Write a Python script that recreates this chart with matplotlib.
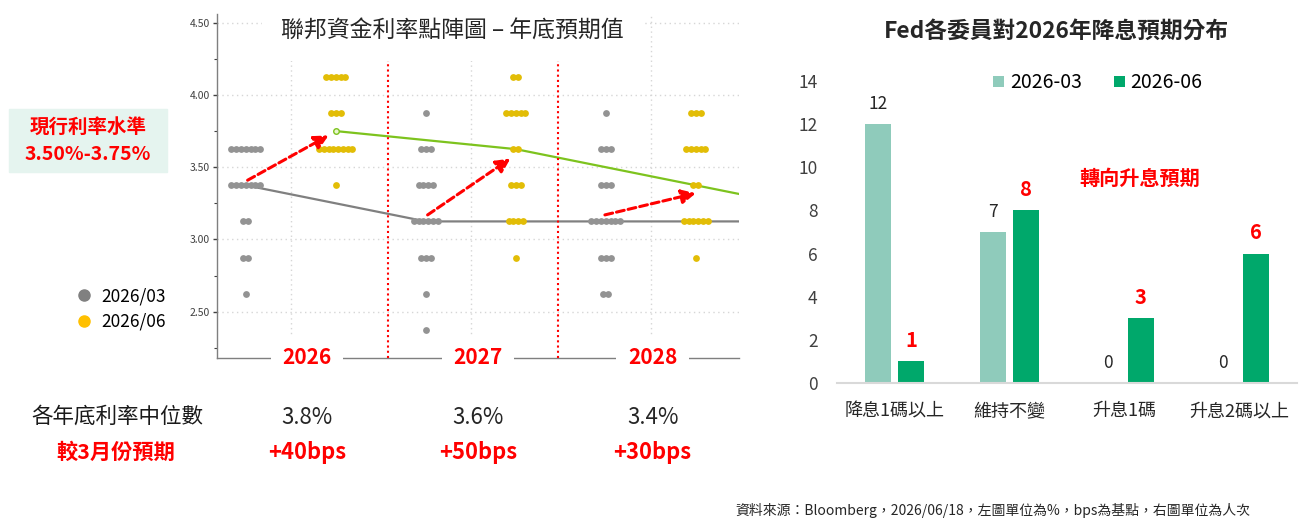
import numpy as np
import matplotlib.pyplot as plt
from matplotlib.patches import Rectangle
from matplotlib.lines import Line2D
from matplotlib.ticker import MultipleLocator
from matplotlib.transforms import blended_transform_factory

plt.rcParams['font.family'] = ['Noto Sans CJK TC', 'DejaVu Sans']

# 點陣圖：各利率水準的委員人數（由上而下）
rate_levels = [4.125, 3.875, 3.625, 3.375, 3.125, 2.875, 2.625, 2.375]
dots_2026_03 = [0, 0, 7, 7, 2, 2, 1, 0]
dots_2026_06 = [5, 3, 8, 1, 0, 0, 0, 0]
dots_2027_03 = [0, 1, 3, 4, 6, 3, 1, 1]
dots_2027_06 = [2, 5, 2, 3, 4, 1, 0, 0]
dots_2028_03 = [0, 1, 3, 3, 7, 3, 2, 0]
dots_2028_06 = [0, 3, 5, 2, 6, 1, 0, 0]

# 中位數連線（2026, 2027, 2028, 長期）
median_03 = [3.375, 3.125, 3.125, 3.125]
median_06 = [3.75, 3.625, 3.375, 3.125]

years = ['2026', '2027', '2028']
median_text = ['3.8%', '3.6%', '3.4%']
change_text = ['+40bps', '+50bps', '+30bps']

# 右圖
categories = ['降息1碼以上', '維持不變', '升息1碼', '升息2碼以上']
votes_03 = [12, 7, 0, 0]
votes_06 = [1, 8, 3, 6]

grey = '#939393'
yellow = '#E2BD06'
light_green = '#8FCBBB'
dark_green = '#00A86B'
red = '#FF0000'

W, H = 1302, 521


def fx(x):
    return x / W


def fy(y):
    return 1 - y / H


fig = plt.figure(figsize=(W / 100, H / 100), dpi=100)

# ---------------- left: dot plot ----------------
ax = fig.add_axes([fx(217), fy(358), 522 / W, 344 / H])
ax.set_xlim(-0.32, 5.48)
ax.set_ylim(2.18, 4.56)

columns = [dots_2026_03, dots_2026_06, dots_2027_03, dots_2027_06, dots_2028_03, dots_2028_06]
for i, counts in enumerate(columns):
    color = grey if i % 2 == 0 else yellow
    for level, n in zip(rate_levels, counts):
        if n == 0:
            continue
        xs = i + (np.arange(n) - (n - 1) / 2) * 0.053
        ax.scatter(xs, [level] * n, s=24, color=color, linewidths=0, zorder=3)

ax.plot(np.arange(len(median_03)) * 2, median_03, color='#808080', lw=1.6, zorder=2)
ax.plot(np.arange(len(median_06)) * 2 + 1, median_06, color='#7DC31E', lw=1.6, zorder=2)
ax.plot(1, median_06[0], 'o', ms=4, mfc='#E8F5D0', mec='#7DC31E', mew=1, zorder=3.5)

# 紅色虛線箭頭
arrows = [((0.02, 3.41), (0.92, 3.72)),
          ((2.02, 3.17), (2.94, 3.56)),
          ((3.99, 3.17), (5.0, 3.32))]
for start, end in arrows:
    ax.annotate('', xy=end, xytext=start, zorder=4,
                arrowprops=dict(arrowstyle='-|>,head_length=0.7,head_width=0.35',
                                color=red, lw=2.2, linestyle=(0, (2.6, 1.3)),
                                shrinkA=0, shrinkB=0, mutation_scale=12))

for xs in [1.58, 3.47]:
    ax.vlines(xs, 2.18, 4.28, colors=red, linestyles=(0, (1, 1.5)), lw=1.5, zorder=2.6)

ax.set_yticks([2.5, 3.0, 3.5, 4.0, 4.5])
ax.set_yticklabels(['%.2f' % v for v in [2.5, 3.0, 3.5, 4.0, 4.5]])
ax.yaxis.set_minor_locator(MultipleLocator(0.25))
ax.tick_params(axis='y', which='major', length=3, width=1, color='#404040',
               labelsize=7.5, labelcolor='#404040', pad=2)
ax.tick_params(axis='y', which='minor', length=2, width=0.8, color='#404040')
ax.set_xticks([0.5, 2.5, 4.5])
ax.set_xticklabels([])
ax.tick_params(axis='x', length=0)
ax.grid(True, which='major', color='#D6D6D6', linestyle=(0, (1, 2.5)), lw=1)
ax.set_axisbelow(True)
for s in ['top', 'right']:
    ax.spines[s].set_visible(False)
for s in ['left', 'bottom']:
    ax.spines[s].set_color('#7F7F7F')
    ax.spines[s].set_linewidth(1)

year_x = [0.68, 2.58, 4.52]
trans = blended_transform_factory(ax.transData, ax.transAxes)
for xp, yr in zip(year_x, years):
    ax.text(xp, 0, yr, transform=trans, ha='center', va='center', fontsize=15,
            fontweight='bold', color=red, zorder=5, clip_on=False,
            bbox=dict(boxstyle='square,pad=0.55', fc='white', ec='none'))

tfig = blended_transform_factory(ax.transData, fig.transFigure)
for xp, mt, ct in zip(year_x, median_text, change_text):
    ax.text(xp, fy(417), mt, transform=tfig, ha='center', va='center',
            fontsize=16, color='#262626', clip_on=False)
    ax.text(xp, fy(453), ct, transform=tfig, ha='center', va='center',
            fontsize=15.8, fontweight='bold', color=red, clip_on=False)

fig.text(fx(117), fy(417), '各年底利率中位數', ha='center', va='center',
         fontsize=15.5, color='#1A1A1A')
fig.text(fx(116), fy(452), '較3月份預期', ha='center', va='center',
         fontsize=15.3, color=red, fontweight='bold')

fig.text(fx(452), fy(31), '聯邦資金利率點陣圖 – 年底預期值', ha='center', va='center',
         fontsize=16.5, color='#262626',
         bbox=dict(boxstyle='square,pad=0.8', fc='white', ec='none'))

fig.add_artist(Rectangle((fx(9), fy(172)), (167 - 9) / W, (172 - 109) / H,
                         transform=fig.transFigure, color='#E5F4EF', zorder=0))
fig.text(fx(88), fy(127), '現行利率水準', ha='center', va='center',
         fontsize=14, color=red, fontweight='bold')
fig.text(fx(88), fy(155), '3.50%-3.75%', ha='center', va='center',
         fontsize=14, color=red, fontweight='bold')

dot_handles = [Line2D([], [], marker='o', ls='none', ms=8, color='#808080'),
               Line2D([], [], marker='o', ls='none', ms=8, color='#FFC000')]
fig.legend(dot_handles, ['2026/03', '2026/06'], loc='center',
           bbox_to_anchor=(fx(121), fy(309)), frameon=False, fontsize=12.5,
           handlelength=1.0, handletextpad=0.5, labelspacing=0.45)

# ---------------- right: bar chart ----------------
ax2 = fig.add_axes([fx(837), fy(383), 460 / W, 15 * 21.57 / H])
ax2.set_xlim(-0.5, 3.5)
ax2.set_ylim(0, 15)
x = np.arange(len(categories))
ax2.bar(x - 0.143, votes_03, width=0.226, color=light_green, label='2026-03')
ax2.bar(x + 0.143, votes_06, width=0.226, color=dark_green, label='2026-06')

for xi, v in zip(x, votes_03):
    ax2.annotate(str(v), (xi - 0.143, v), xytext=(0, 14.5), textcoords='offset points',
                 ha='center', va='center', fontsize=12.5, color='#262626')
for xi, v in zip(x, votes_06):
    ax2.annotate(str(v), (xi + 0.143, v), xytext=(0, 15), textcoords='offset points',
                 ha='center', va='center', fontsize=14.5, color=red, fontweight='bold')

ax2.set_yticks(range(0, 15, 2))
ax2.set_xticks(x)
ax2.set_xticklabels(categories)
ax2.tick_params(axis='y', length=0, pad=14, labelsize=12.5, labelcolor='#404040')
ax2.tick_params(axis='x', length=0, pad=14, labelsize=13, labelcolor='#262626')
for s in ['left', 'top', 'right']:
    ax2.spines[s].set_visible(False)
ax2.spines['bottom'].set_color('#D9D9D9')
ax2.spines['bottom'].set_linewidth(1.5)

ax2.legend(loc='center', bbox_to_anchor=(fx(1098), fy(83)), bbox_transform=fig.transFigure,
           ncol=2, frameon=False, fontsize=14, handlelength=0.55, handleheight=0.55,
           handletextpad=0.3, columnspacing=1.65)

fig.text(fx(1056), fy(31), 'Fed各委員對2026年降息預期分布', ha='center', va='center',
         fontsize=16.4, color='#262626', fontweight='bold')
fig.text(fx(1140), fy(178), '轉向升息預期', ha='center', va='center',
         fontsize=14.5, color=red, fontweight='bold')

fig.text(fx(735), fy(510), '資料來源：Bloomberg，2026/06/18，左圖單位為%，bps為基點，右圖單位為人次',
         ha='left', va='center', fontsize=10, color='#262626')

fig.savefig('out.png', dpi=100)
